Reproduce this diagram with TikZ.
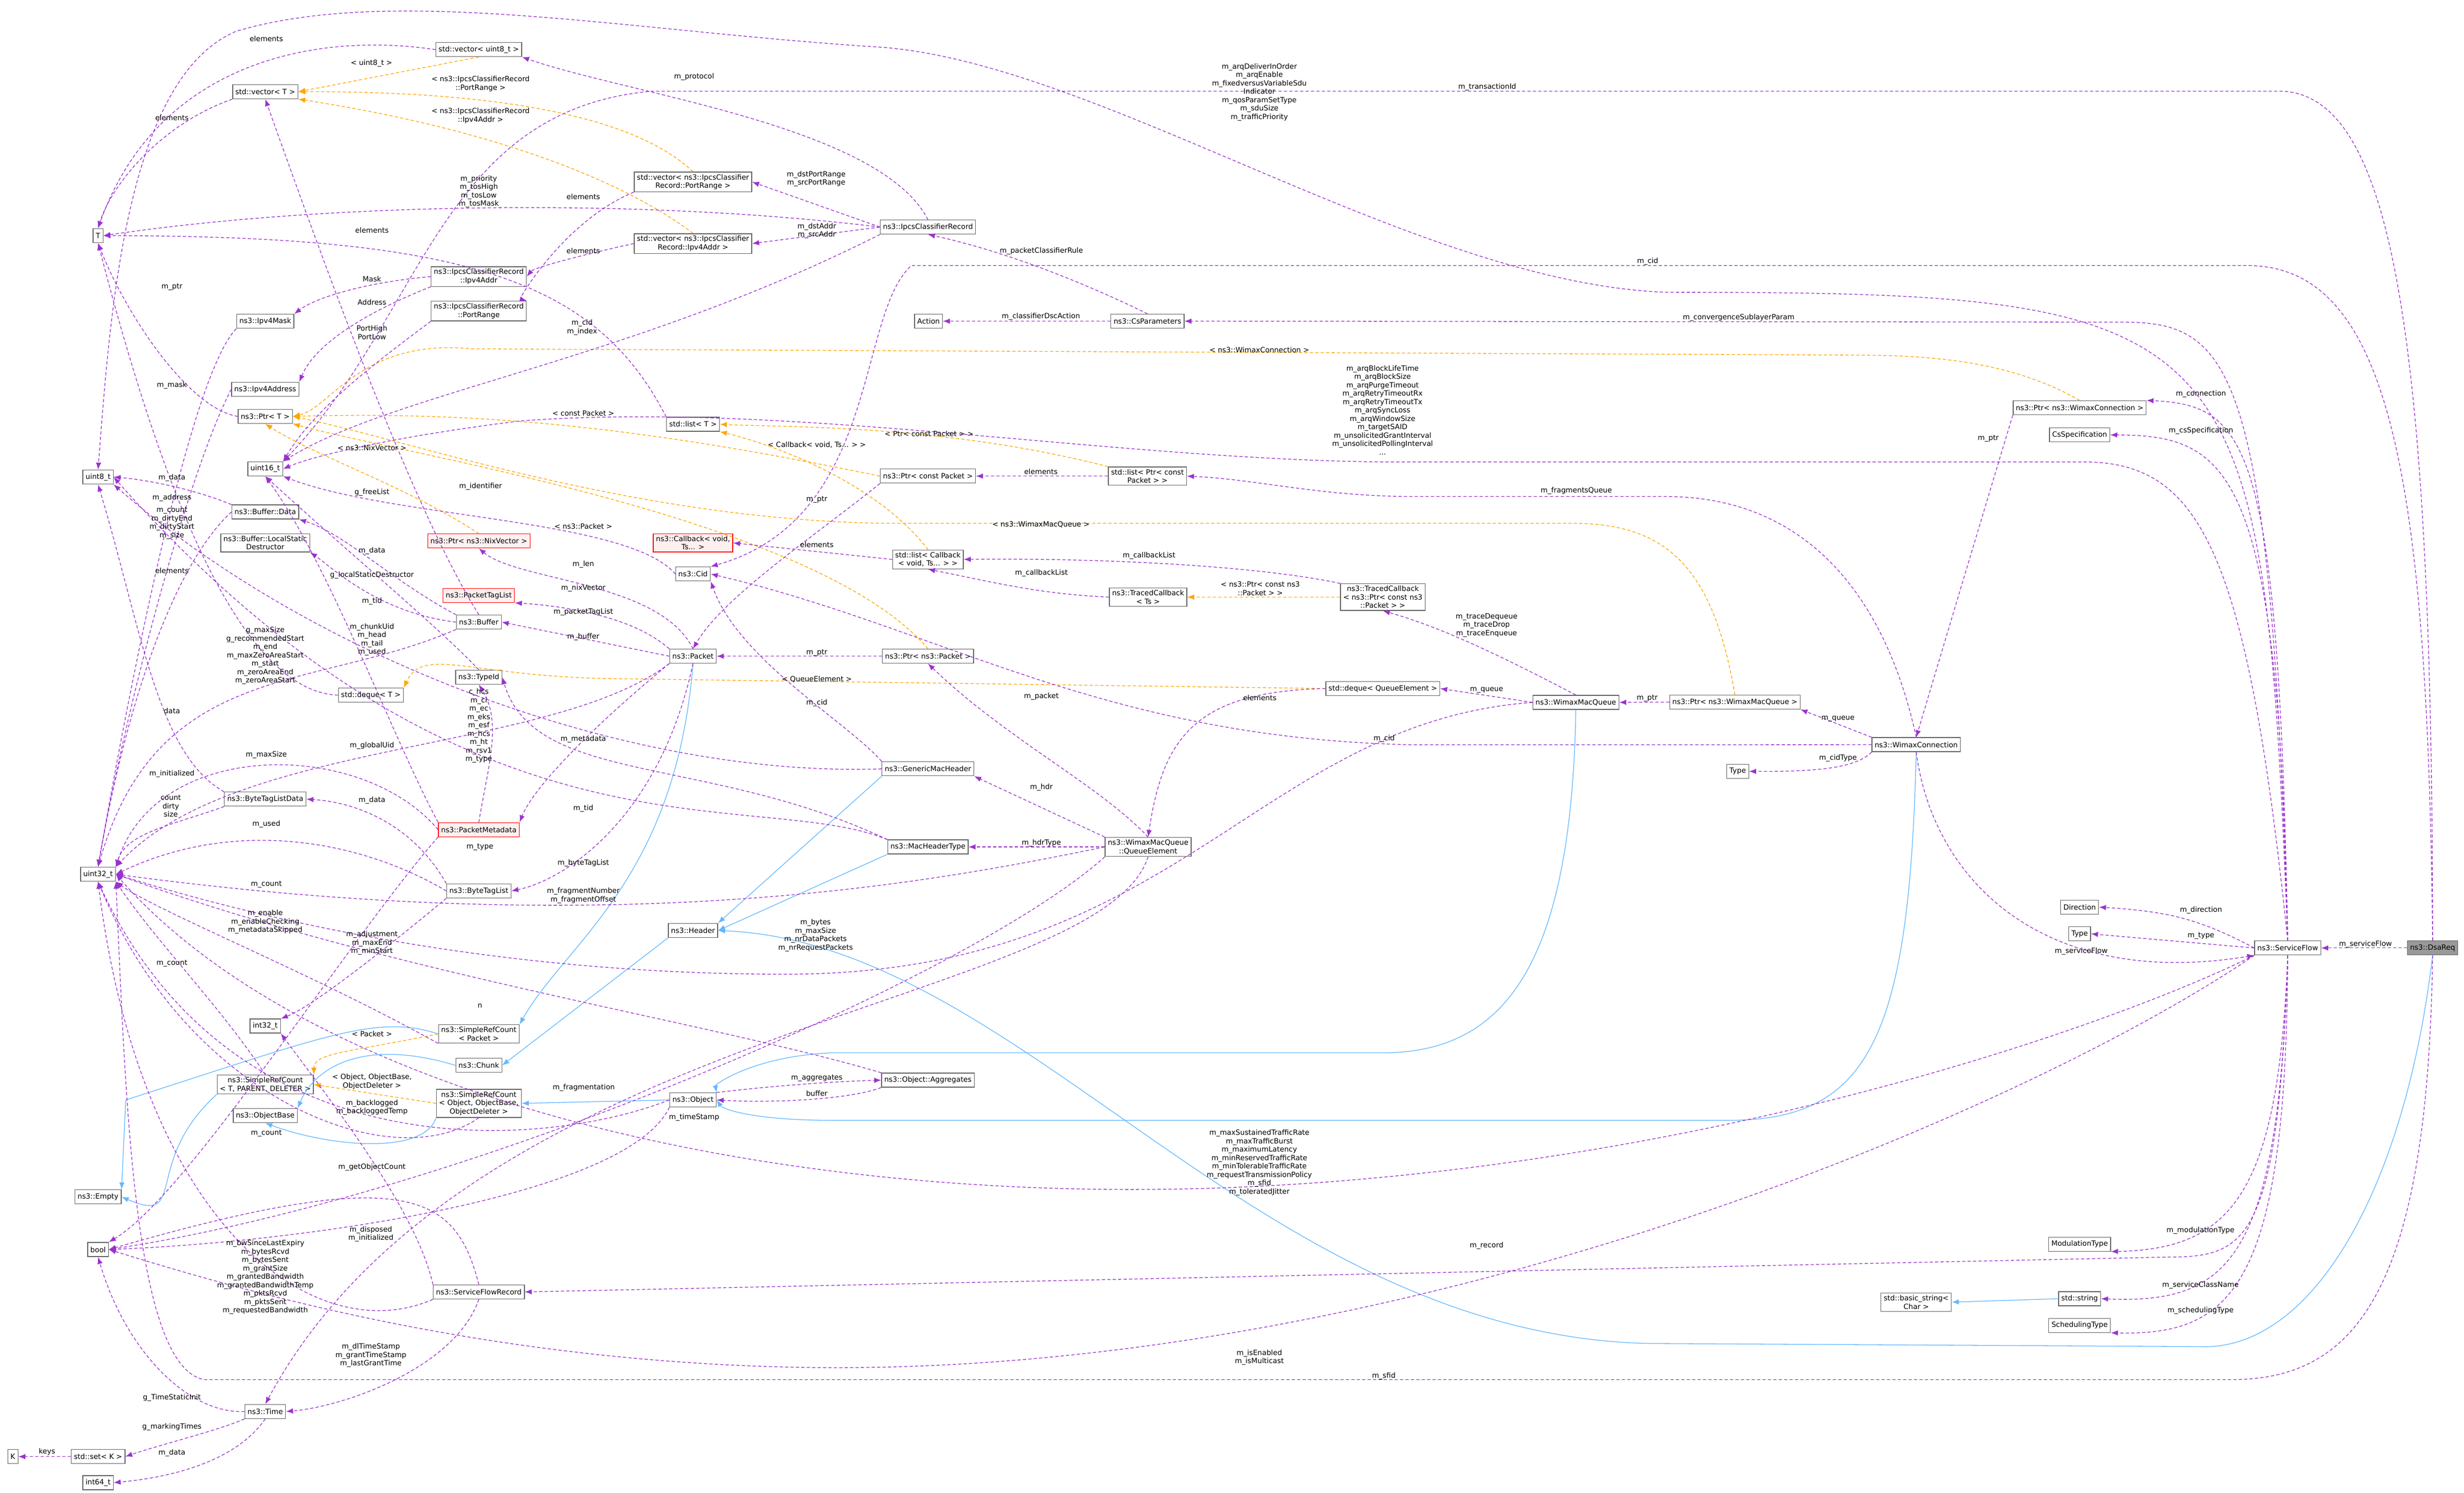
\documentclass[tikz,border=0pt]{standalone}
\usepackage{fontspec}
\setmainfont{DejaVu Sans}
\usetikzlibrary{arrows.meta}
\definecolor{usec}{HTML}{9A32CD}
\definecolor{tplc}{HTML}{FFA500}
\definecolor{inhc}{HTML}{63B8FF}
\definecolor{boxc}{HTML}{666666}
\tikzset{
 cls/.style={draw=boxc,fill=white,line width=1.3pt,inner xsep=5pt,inner ysep=4pt,minimum height=26pt,align=center,font=\fontsize{13.3}{15.5}\selectfont},
 redc/.style={cls,draw=red,fill=red!6},
 selc/.style={cls,fill=black!40},
 lbl/.style={align=center,inner sep=0pt,font=\fontsize{13.3}{15.5}\selectfont},
 usee/.style={draw=usec,line width=1.3pt,dash pattern=on 6pt off 4pt,-{Latex[length=13pt,width=10pt]}},
 tple/.style={draw=tplc,line width=1.3pt,dash pattern=on 6pt off 4pt,-{Latex[length=13pt,width=10pt]}},
 inhe/.style={draw=inhc,line width=1.3pt,-{Latex[length=13pt,width=10pt]}},
}
\begin{document}
\begin{tikzpicture}[x=2.904pt,y=-2.904pt]
\useasboundingbox (0,0) rectangle (1568,950);
% nodes
\node[cls] (vu8) at (304.7,31.6) {std::vector\textless{} uint8\_t \textgreater{}};
\node[cls] (vT) at (168.8,58.4) {std::vector\textless{} T \textgreater{}};
\node[cls] (T) at (62.4,150) {T};
\node[cls] (vPR) at (441,115.8) {std::vector\textless{} ns3::IpcsClassifier\\Record::PortRange \textgreater{}};
\node[cls] (vIA) at (441,155) {std::vector\textless{} ns3::IpcsClassifier\\Record::Ipv4Addr \textgreater{}};
\node[cls] (ICR) at (590.5,144.5) {ns3::IpcsClassifierRecord};
\node[cls] (IA) at (304.7,176) {ns3::IpcsClassifierRecord\\::Ipv4Addr};
\node[cls] (PR) at (304.7,198) {ns3::IpcsClassifierRecord\\::PortRange};
\node[cls] (Act) at (590.9,204.4) {Action};
\node[cls] (CsP) at (730.2,204.4) {ns3::CsParameters};
\node[cls] (Mask) at (168.8,204.5) {ns3::Ipv4Mask};
\node[cls] (Addr) at (168.8,247.8) {ns3::Ipv4Address};
\node[cls] (PtrT) at (168.8,265) {ns3::Ptr\textless{} T \textgreater{}};
\node[cls] (listT) at (441,270) {std::list\textless{} T \textgreater{}};
\node[cls] (u16) at (168.8,298.4) {uint16\_t};
\node[cls] (u8) at (62.4,303.6) {uint8\_t};
\node[cls] (BData) at (168.8,325.8) {ns3::Buffer::Data};
\node[cls] (LSD) at (168.8,345.5) {ns3::Buffer::LocalStatic\\Destructor};
\node[redc] (PtrNix) at (304.7,344.3) {ns3::Ptr\textless{} ns3::NixVector \textgreater{}};
\node[redc] (Cb) at (441,345.5) {ns3::Callback\textless{} void,\\ Ts... \textgreater{}};
\node[cls] (Cid) at (441,365.3) {ns3::Cid};
\node[redc] (PTL) at (304.7,379) {ns3::PacketTagList};
\node[cls] (Buf) at (304.7,395.9) {ns3::Buffer};
\node[cls] (Pkt) at (441,417.6) {ns3::Packet};
\node[cls] (TypeId) at (304.7,431) {ns3::TypeId};
\node[cls] (dqT) at (236,442.4) {std::deque\textless{} T \textgreater{}};
\node[cls] (BTLD) at (168.8,508.6) {ns3::ByteTagListData};
\node[redc] (PM) at (304.7,528) {ns3::PacketMetadata};
\node[cls] (u32) at (62.4,556.4) {uint32\_t};
\node[cls] (BTL) at (304.7,567) {ns3::ByteTagList};
\node[cls] (Hdr) at (441,592.2) {ns3::Header};
\node[cls] (i32) at (168.8,653) {int32\_t};
\node[cls] (SRCP) at (304.7,658) {ns3::SimpleRefCount\\\textless{} Packet \textgreater{}};
\node[cls] (Chunk) at (304.7,678) {ns3::Chunk};
\node[cls] (SRCT) at (168.8,690.2) {ns3::SimpleRefCount\\\textless{} T, PARENT, DELETER \textgreater{}};
\node[cls] (OB) at (168.8,710) {ns3::ObjectBase};
\node[cls] (SRCO) at (304.7,702.2) {ns3::SimpleRefCount\\\textless{} Object, ObjectBase,\\ ObjectDeleter \textgreater{}};
\node[cls] (Obj) at (441,700) {ns3::Object};
\node[cls] (Agg) at (590.5,687.4) {ns3::Object::Aggregates};
\node[cls] (Empty) at (62.4,761.7) {ns3::Empty};
\node[cls] (bool) at (62.4,795.2) {bool};
\node[cls] (SFR) at (304.7,822.2) {ns3::ServiceFlowRecord};
\node[cls] (Time) at (168.8,898.3) {ns3::Time};
\node[cls] (K) at (8.2,927) {K};
\node[cls] (setK) at (62.4,927) {std::set\textless{} K \textgreater{}};
\node[cls] (i64) at (62.4,943.6) {int64\_t};
\node[cls] (PtrCP) at (590.5,303) {ns3::Ptr\textless{} const Packet \textgreater{}};
\node[cls] (lPCP) at (730.2,303) {std::list\textless{} Ptr\textless{} const\\ Packet \textgreater{} \textgreater{}};
\node[cls] (lCb) at (590.5,356) {std::list\textless{} Callback\\\textless{} void, Ts... \textgreater{} \textgreater{}};
\node[cls] (TCTs) at (730.6,380) {ns3::TracedCallback\\\textless{} Ts \textgreater{}};
\node[cls] (TCP) at (880,380) {ns3::TracedCallback\\\textless{} ns3::Ptr\textless{} const ns3\\::Packet \textgreater{} \textgreater{}};
\node[cls] (PtrPkt) at (590.5,417.6) {ns3::Ptr\textless{} ns3::Packet \textgreater{}};
\node[cls] (dqQE) at (880,438.2) {std::deque\textless{} QueueElement \textgreater{}};
\node[cls] (WMQ) at (1002.8,447) {ns3::WimaxMacQueue};
\node[cls] (GMH) at (590.5,489.3) {ns3::GenericMacHeader};
\node[cls] (QE) at (730.6,539) {ns3::WimaxMacQueue\\::QueueElement};
\node[cls] (MHT) at (590.5,539) {ns3::MacHeaderType};
\node[cls] (PtrWC) at (1323.4,259.5) {ns3::Ptr\textless{} ns3::WimaxConnection \textgreater{}};
\node[cls] (CsS) at (1323.4,276.8) {CsSpecification};
\node[cls] (PtrWMQ) at (1104,446.8) {ns3::Ptr\textless{} ns3::WimaxMacQueue \textgreater{}};
\node[cls] (WC) at (1219.4,473.9) {ns3::WimaxConnection};
\node[cls] (TypeC) at (1105.8,490.9) {Type};
\node[cls] (Dir) at (1323.4,577.3) {Direction};
\node[cls] (TypeS) at (1323.4,594.3) {Type};
\node[cls] (SF) at (1455.8,603.3) {ns3::ServiceFlow};
\node[selc] (DR) at (1548,603.3) {ns3::DsaReq};
\node[cls] (ModT) at (1323.4,791.8) {ModulationType};
\node[cls] (bstr) at (1219.4,828.7) {std::basic\_string\textless{}\\ Char \textgreater{}};
\node[cls] (str) at (1323.4,826.5) {std::string};
\node[cls] (SchT) at (1323.4,843.5) {SchedulingType};

% inheritance
\draw[inhe] (DR.south) .. controls (1530,760) and (1470,860) .. (1400,857) -- (1050,855) .. controls (800,850) and (650,600) .. (Hdr.east);
\draw[inhe] (WC.south) .. controls (1215,660) and (1190,713) .. (1100,713) -- (530,713) .. controls (480,713) and (460,706) .. (Obj.east);
\draw[inhe] (WMQ.south) .. controls (1000,610) and (960,670) .. (880,670) -- (530,670) .. controls (480,672) and (455,690) .. (Obj.north east);
\draw[inhe] (GMH.south west) -- (Hdr.north east);
\draw[inhe] (MHT.south west) -- (Hdr.east);
\draw[inhe] (Hdr.south west) -- (Chunk.east);
\draw[inhe] (Chunk.west) .. controls (230,660) and (200,680) .. (OB.north east);
\draw[inhe] (Pkt.south) .. controls (430,560) and (360,600) .. (SRCP.north east);
\draw[inhe] (SRCP.west) .. controls (240,645) and (205,660) .. (80,700) -- (Empty.north east);
\draw[inhe] (SRCT.south west) .. controls (90,740) and (120,780) .. (Empty.east);
\draw[inhe] (SRCO.south west) .. controls (270,735) and (210,730) .. (OB.south);
\draw[inhe] (Obj.west) -- (SRCO.east);
\draw[inhe] (str.west) -- (bstr.east);

% template
\draw[tple] (vu8.south) -- (vT.east);
\draw[tple] (vPR.north) .. controls (400,70) and (300,58) .. (vT.east);
\draw[tple] (vIA.north) .. controls (390,110) and (300,80) .. (vT.south east);
\draw[tple] (PtrWC.north) .. controls (1280,230) and (1230,226) .. (1180,226) -- (300,222) .. controls (230,215) and (210,260) .. (PtrT.east);
\draw[tple] (PtrWMQ.north) .. controls (1090,360) and (1060,333) .. (1000,333) -- (560,333) .. controls (400,330) and (260,280) .. (PtrT.east);
\draw[tple] (PtrPkt.north) .. controls (520,330) and (260,290) .. (PtrT.south east);
\draw[tple] (PtrCP.west) .. controls (400,270) and (300,262) .. (PtrT.east);
\draw[tple] (PtrNix.north) .. controls (260,310) and (200,290) .. (PtrT.south);
\draw[tple] (lCb.north) .. controls (560,310) and (500,285) .. (listT.south east);
\draw[tple] (lPCP.north west) .. controls (600,270) and (500,272) .. (listT.east);
\draw[tple] (TCP.west) -- (TCTs.east);
\draw[tple] (dqQE.west) -- (400,432) .. controls (300,432) and (270,410) .. (dqT.north east);
\draw[tple] (SRCP.west) .. controls (220,670) and (200,670) .. (SRCT.north east);
\draw[tple] (SRCO.west) -- (SRCT.east);

% usage
\draw[usee] (DR.west) -- (SF.east);
\draw[usee] (DR.north) .. controls (1548,200) and (1520,58) .. (1450,58) -- (415,58) .. controls (280,70) and (270,200) .. (u16.north east);
\draw[usee] (DR.north) .. controls (1545,300) and (1520,169) .. (1430,169) -- (580,169) .. controls (545,200) and (560,330) .. (Cid.north east);
\draw[usee] (DR.south) .. controls (1545,820) and (1500,878) .. (1420,878) -- (130,878) .. controls (85,870) and (80,700) .. (u32.south east);
\draw[usee] (SF.west) .. controls (1400,585) and (1380,580) .. (Dir.east);
\draw[usee] (SF.west) -- (TypeS.east);
\draw[usee] (SF.south) .. controls (1450,760) and (1420,795) .. (ModT.south east);
\draw[usee] (SF.south) .. controls (1450,800) and (1420,830) .. (str.east);
\draw[usee] (SF.south) .. controls (1455,820) and (1420,850) .. (SchT.south east);
\draw[usee] (SF.north) .. controls (1450,280) and (1430,258) .. (PtrWC.north east);
\draw[usee] (SF.north) .. controls (1450,300) and (1420,277) .. (CsS.east);
\draw[usee] (SF.north) .. controls (1445,230) and (1420,205) .. (1350,205) -- (CsP.east);
\draw[usee] (SF.south) .. controls (1450,790) and (1430,800) .. (1380,800) -- (SFR.east);
\draw[usee] (SF.south west) .. controls (1350,650) and (1100,740) .. (800,755) .. controls (500,770) and (200,700) .. (u32.east);
\draw[usee] (SF.south west) .. controls (1300,700) and (900,880) .. (500,870) .. controls (300,865) and (150,820) .. (bool.east);
\draw[usee] (SF.north) .. controls (1440,200) and (1430,186) .. (1060,186) .. controls (900,180) and (700,40) .. (560,30) .. controls (400,20) and (250,-10) .. (150,20) .. controls (80,50) and (70,200) .. (u8.north);
\draw[usee] (SF.north) .. controls (1430,350) and (1400,294) .. (1326,294) -- (880,294) .. controls (700,292) and (500,255) .. (330,268) .. controls (250,278) and (200,290) .. (u16.east);
\draw[usee] (WC.south) .. controls (1230,560) and (1300,630) .. (SF.south west);
\draw[usee] (WC.north west) -- (PtrWMQ.south east);
\draw[usee] (WC.south west) .. controls (1180,490) and (1150,491) .. (TypeC.east);
\draw[usee] (WC.west) -- (900,474) .. controls (700,470) and (600,400) .. (Cid.east);
\draw[usee] (WC.north) .. controls (1200,380) and (1150,316) .. (1060,316) -- (900,316) .. controls (840,316) and (800,305) .. (lPCP.east);
\draw[usee] (PtrWC.south west) .. controls (1270,300) and (1240,400) .. (WC.north);
\draw[usee] (PtrWMQ.west) -- (WMQ.east);
\draw[usee] (WMQ.west) -- (dqQE.east);
\draw[usee] (WMQ.north) .. controls (960,420) and (920,400) .. (TCP.south);
\draw[usee] (WMQ.west) .. controls (800,460) and (750,620) .. (500,620) .. controls (300,620) and (150,580) .. (u32.east);
\draw[usee] (dqQE.west) .. controls (760,440) and (740,470) .. (QE.north);
\draw[usee] (QE.north) .. controls (700,500) and (640,470) .. (PtrPkt.south);
\draw[usee] (QE.north west) -- (GMH.south east);
\draw[usee] (QE.west) -- (MHT.east);
\draw[usee] (QE.south) .. controls (700,640) and (300,650) .. (Time.north);
\draw[usee] (QE.west) .. controls (600,560) and (400,600) .. (u32.east);
\draw[usee] (QE.south west) .. controls (620,620) and (300,760) .. (bool.east);
\draw[usee] (GMH.north west) .. controls (540,460) and (470,420) .. (Cid.south east);
\draw[usee] (GMH.west) .. controls (400,495) and (200,420) .. (u8.south east);
\draw[usee] (MHT.north west) .. controls (480,500) and (300,560) .. (u8.east);
\draw[usee] (PtrPkt.west) -- (Pkt.east);
\draw[usee] (PtrCP.south west) .. controls (520,340) and (460,380) .. (Pkt.north);
\draw[usee] (Pkt.west) -- (Buf.east);
\draw[usee] (Pkt.north west) .. controls (400,390) and (350,385) .. (PTL.south east);
\draw[usee] (Pkt.north) .. controls (420,370) and (330,370) .. (PtrNix.south);
\draw[usee] (Pkt.south west) .. controls (380,460) and (340,500) .. (PM.north east);
\draw[usee] (Pkt.south) .. controls (420,520) and (360,560) .. (BTL.east);
\draw[usee] (Pkt.south west) .. controls (350,480) and (150,470) .. (u32.north east);
\draw[usee] (TCP.north west) .. controls (800,360) and (700,355) .. (lCb.east);
\draw[usee] (TCTs.west) .. controls (660,378) and (630,370) .. (lCb.south);
\draw[usee] (lCb.west) -- (Cb.east);
\draw[usee] (lPCP.west) -- (PtrCP.east);
\draw[usee] (Cid.west) .. controls (400,330) and (250,330) .. (u16.south east);
\draw[usee] (ICR.west) -- (vPR.east);
\draw[usee] (ICR.west) -- (vIA.east);
\draw[usee] (ICR.west) .. controls (400,125) and (200,130) .. (T.east);
\draw[usee] (ICR.north) .. controls (560,80) and (400,60) .. (vu8.south east);
\draw[usee] (ICR.south west) .. controls (400,230) and (250,250) .. (u16.north east);
\draw[usee] (CsP.north) .. controls (690,180) and (640,160) .. (ICR.south);
\draw[usee] (CsP.west) -- (Act.east);
\draw[usee] (vPR.south west) .. controls (360,140) and (330,190) .. (PR.north east);
\draw[usee] (vIA.west) .. controls (380,160) and (340,170) .. (IA.east);
\draw[usee] (vu8.west) .. controls (200,20) and (100,40) .. (T.north);
\draw[usee] (vT.south west) .. controls (100,80) and (70,120) .. (T.north);
\draw[usee] (listT.north west) .. controls (380,180) and (300,150) .. (T.east);
\draw[usee] (dqT.west) .. controls (150,440) and (100,300) .. (T.south);
\draw[usee] (PtrT.west) .. controls (120,260) and (80,200) .. (T.south);
\draw[usee] (IA.west) .. controls (230,180) and (200,190) .. (Mask.north east);
\draw[usee] (IA.south west) .. controls (230,200) and (200,220) .. (Addr.north east);
\draw[usee] (PR.south west) .. controls (240,230) and (200,260) .. (u16.north east);
\draw[usee] (Mask.south west) .. controls (120,240) and (80,450) .. (u32.north);
\draw[usee] (Addr.west) .. controls (120,300) and (80,450) .. (u32.north);
\draw[usee] (BData.north west) .. controls (120,310) and (90,305) .. (u8.east);
\draw[usee] (BData.west) .. controls (110,360) and (80,450) .. (u32.north);
\draw[usee] (Buf.north west) .. controls (250,370) and (220,340) .. (BData.south east);
\draw[usee] (Buf.west) .. controls (240,390) and (210,360) .. (LSD.south east);
\draw[usee] (Buf.south west) .. controls (200,440) and (100,420) .. (u32.north);
\draw[usee] (Buf.north) .. controls (260,320) and (200,150) .. (vT.south);
\draw[usee] (TypeId.north) .. controls (280,400) and (220,350) .. (u16.south);
\draw[usee] (PM.north west) .. controls (250,470) and (210,360) .. (u16.south);
\draw[usee] (PM.west) .. controls (230,470) and (100,470) .. (u32.north east);
\draw[usee] (PM.south west) .. controls (220,600) and (120,760) .. (bool.north east);
\draw[usee] (PM.north) .. controls (310,490) and (320,460) .. (TypeId.south);
\draw[usee] (BTLD.north west) .. controls (100,480) and (90,400) .. (u8.south);
\draw[usee] (BTLD.south west) .. controls (110,525) and (80,530) .. (u32.north east);
\draw[usee] (BTL.north west) .. controls (260,520) and (220,510) .. (BTLD.east);
\draw[usee] (BTL.west) .. controls (230,535) and (150,520) .. (u32.east);
\draw[usee] (BTL.south west) .. controls (250,600) and (200,640) .. (i32.north east);
\draw[usee] (MHT.north west) .. controls (450,480) and (340,500) .. (TypeId.east);
\draw[usee] (SRCT.north) .. controls (140,640) and (100,600) .. (u32.south east);
\draw[usee] (SRCP.south west) .. controls (200,620) and (100,580) .. (u32.south east);
\draw[usee] (SRCO.south) .. controls (250,750) and (120,700) .. (u32.south);
\draw[usee] (Agg.north west) .. controls (450,650) and (250,620) .. (u32.east);
\draw[usee] (Agg.south west) .. controls (540,700) and (490,702) .. (Obj.east);
\draw[usee] (Obj.north east) .. controls (500,690) and (540,688) .. (Agg.west);
\draw[usee] (Obj.south west) .. controls (400,760) and (200,790) .. (bool.east);
\draw[usee] (Obj.west) .. controls (350,730) and (150,750) .. (u32.south);
\draw[usee] (SFR.north west) .. controls (265,770) and (210,700) .. (i32.south east);
\draw[usee] (SFR.south west) .. controls (200,860) and (90,780) .. (u32.south);
\draw[usee] (SFR.north) .. controls (290,760) and (260,740) .. (bool.east);
\draw[usee] (SFR.south) .. controls (290,870) and (220,895) .. (Time.east);
\draw[usee] (Time.west) .. controls (120,900) and (80,860) .. (bool.south);
\draw[usee] (Time.south west) .. controls (140,910) and (100,920) .. (setK.east);
\draw[usee] (Time.south) .. controls (150,930) and (110,940) .. (i64.east);
\draw[usee] (setK.west) -- (K.east);

% labels
\node[lbl] at (169.5,24.6) {elements};
\node[lbl] at (236.4,40.4) {\textless{} uint8\_t \textgreater{}};
\node[lbl] at (305.8,53.4) {\textless{} ns3::IpcsClassifierRecord\\::PortRange \textgreater{}};
\node[lbl] at (305.8,73.6) {\textless{} ns3::IpcsClassifierRecord\\::Ipv4Addr \textgreater{}};
\node[lbl] at (441.7,48.8) {m\_protocol};
\node[lbl] at (109.4,74.9) {elements};
\node[lbl] at (519.4,113.8) {m\_dstPortRange\\m\_srcPortRange};
\node[lbl] at (304.7,121.9) {m\_priority\\m\_tosHigh\\m\_tosLow\\m\_tosMask};
\node[lbl] at (371.2,125.2) {elements};
\node[lbl] at (236.7,146.5) {elements};
\node[lbl] at (519.8,146.8) {m\_dstAddr\\m\_srcAddr};
\node[lbl] at (371.2,159.7) {elements};
\node[lbl] at (236.7,177.5) {Mask};
\node[lbl] at (109.4,182.8) {m\_ptr};
\node[lbl] at (236.7,192.5) {Address};
\node[lbl] at (370.4,208.3) {m\_cid\\m\_index};
\node[lbl] at (236.7,211.6) {PortHigh\\PortLow};
\node[lbl] at (109.4,245.2) {m\_mask};
\node[lbl] at (371.2,263) {\textless{} const Packet \textgreater{}};
\node[lbl] at (591.2,275.9) {\textless{} Ptr\textless{} const Packet \textgreater{} \textgreater{}};
\node[lbl] at (519.8,283) {\textless{} Callback\textless{} void, Ts... \textgreater{} \textgreater{}};
\node[lbl] at (236.7,285) {\textless{} ns3::NixVector \textgreater{}};
\node[lbl] at (109.4,304.1) {m\_data};
\node[lbl] at (236.7,313.3) {g\_freeList};
\node[lbl] at (305.8,309.6) {m\_identifier};
\node[lbl] at (109.4,316.8) {m\_address};
\node[lbl] at (519.8,318.1) {m\_ptr};
\node[lbl] at (109.4,333) {m\_count\\m\_dirtyEnd\\m\_dirtyStart\\m\_size};
\node[lbl] at (371.2,335) {\textless{} ns3::Packet \textgreater{}};
\node[lbl] at (236.7,350.6) {m\_data};
\node[lbl] at (519.8,346.5) {elements};
\node[lbl] at (371.2,359.3) {m\_len};
\node[lbl] at (109.4,363.1) {elements};
\node[lbl] at (236.7,366) {g\_localStaticDestructor};
\node[lbl] at (371.2,374.2) {m\_nixVector};
\node[lbl] at (236.7,382.7) {m\_tid};
\node[lbl] at (371.2,389.6) {m\_packetTagList};
\node[lbl] at (236.7,407) {m\_chunkUid\\m\_head\\m\_tail\\m\_used};
\node[lbl] at (371.2,405.4) {m\_buffer};
\node[lbl] at (168.8,417.3) {g\_maxSize\\g\_recommendedStart\\m\_end\\m\_maxZeroAreaStart\\m\_start\\m\_zeroAreaEnd\\m\_zeroAreaStart};
\node[lbl] at (519.8,415.3) {m\_ptr};
\node[lbl] at (519.8,432.3) {\textless{} QueueElement \textgreater{}};
\node[lbl] at (304.7,461.9) {c\_hcs\\m\_ci\\m\_ec\\m\_eks\\m\_esf\\m\_hcs\\m\_ht\\m\_rsv1\\m\_type};
\node[lbl] at (519.8,447.5) {m\_cid};
\node[lbl] at (109.4,452.2) {data};
\node[lbl] at (371.2,470.6) {m\_metadata};
\node[lbl] at (236.7,474.6) {m\_globalUid};
\node[lbl] at (169.5,480.5) {m\_maxSize};
\node[lbl] at (109.4,492.6) {m\_initialized};
\node[lbl] at (108.7,513) {count\\dirty\\size};
\node[lbl] at (236.7,509.2) {m\_data};
\node[lbl] at (371.2,514.5) {m\_tid};
\node[lbl] at (169.5,524.4) {m\_used};
\node[lbl] at (305.4,539.2) {m\_type};
\node[lbl] at (371.2,549.3) {m\_byteTagList};
\node[lbl] at (169.5,563) {m\_count};
\node[lbl] at (371.2,569.9) {m\_fragmentNumber\\m\_fragmentOffset};
\node[lbl] at (168.8,586.7) {m\_enable\\m\_enableChecking\\m\_metadataSkipped};
\node[lbl] at (519,595.2) {m\_bytes\\m\_maxSize\\m\_nrDataPackets\\m\_nrRequestPackets};
\node[lbl] at (236.7,600.1) {m\_adjustment\\m\_maxEnd\\m\_minStart};
\node[lbl] at (109.4,613) {m\_count};
\node[lbl] at (305.4,640) {n};
\node[lbl] at (236.7,658) {\textless{} Packet \textgreater{}};
\node[lbl] at (236.7,688.3) {\textless{} Object, ObjectBase,\\ObjectDeleter \textgreater{}};
\node[lbl] at (519.8,686) {m\_aggregates};
\node[lbl] at (371.5,692.3) {m\_fragmentation};
\node[lbl] at (519.8,695.9) {buffer};
\node[lbl] at (236.7,704.8) {m\_backlogged\\m\_backloggedTemp};
\node[lbl] at (441.7,711.3) {m\_timeStamp};
\node[lbl] at (169.5,721.2) {m\_count};
\node[lbl] at (236.7,742.9) {m\_getObjectCount};
\node[lbl] at (236,785.3) {m\_disposed\\m\_initialized};
\node[lbl] at (168.8,812.9) {m\_bwSinceLastExpiry\\m\_bytesRcvd\\m\_bytesSent\\m\_grantSize\\m\_grantedBandwidth\\m\_grantedBandwidthTemp\\m\_pktsRcvd\\m\_pktsSent\\m\_requestedBandwidth};
\node[lbl] at (236,862.6) {m\_dlTimeStamp\\m\_grantTimeStamp\\m\_lastGrantTime};
\node[lbl] at (109.4,889.6) {g\_TimeStaticInit};
\node[lbl] at (109.4,908.2) {g\_markingTimes};
\node[lbl] at (29.9,924) {keys};
\node[lbl] at (109.4,924.6) {m\_data};
\node[lbl] at (801.4,58.7) {m\_arqDeliverInOrder\\m\_arqEnable\\m\_fixedversusVariableSdu\\Indicator\\m\_qosParamSetType\\m\_sduSize\\m\_trafficPriority};
\node[lbl] at (946.4,55.6) {m\_transactionId};
\node[lbl] at (662.7,159.7) {m\_packetClassifierRule};
\node[lbl] at (1048.5,166.5) {m\_cid};
\node[lbl] at (662.4,201.5) {m\_classifierDscAction};
\node[lbl] at (801.4,222.8) {\textless{} ns3::WimaxConnection \textgreater{}};
\node[lbl] at (879.8,261) {m\_arqBlockLifeTime\\m\_arqBlockSize\\m\_arqPurgeTimeout\\m\_arqRetryTimeoutRx\\m\_arqRetryTimeoutTx\\m\_arqSyncLoss\\m\_arqWindowSize\\m\_targetSAID\\m\_unsolicitedGrantInterval\\m\_unsolicitedPollingInterval\\...};
\node[lbl] at (662.4,300) {elements};
\node[lbl] at (1003.1,312.4) {m\_fragmentsQueue};
\node[lbl] at (662.4,333.7) {\textless{} ns3::WimaxMacQueue \textgreater{}};
\node[lbl] at (731.2,353.7) {m\_callbackList};
\node[lbl] at (662.7,364.8) {m\_callbackList};
\node[lbl] at (802,374.5) {\textless{} ns3::Ptr\textless{} const ns3\\::Packet \textgreater{} \textgreater{}};
\node[lbl] at (946,397.9) {m\_traceDequeue\\m\_traceDrop\\m\_traceEnqueue};
\node[lbl] at (662.7,443.3) {m\_packet};
\node[lbl] at (946,439.3) {m\_queue};
\node[lbl] at (801.7,444.2) {elements};
\node[lbl] at (1048.2,444.5) {m\_ptr};
\node[lbl] at (880.8,470.2) {m\_cid};
\node[lbl] at (662.7,501) {m\_hdr};
\node[lbl] at (662.7,536.4) {m\_hdrType};
\node[lbl] at (801.4,739.9) {m\_maxSustainedTrafficRate\\m\_maxTrafficBurst\\m\_maximumLatency\\m\_minReservedTrafficRate\\m\_minTolerableTrafficRate\\m\_requestTransmissionPolicy\\m\_sfid\\m\_toleratedJitter};
\node[lbl] at (946,792.8) {m\_record};
\node[lbl] at (801.4,863.9) {m\_isEnabled\\m\_isMulticast};
\node[lbl] at (880.6,875.9) {m\_sfid};
\node[lbl] at (1106.4,202) {m\_convergenceSublayerParam};
\node[lbl] at (1400.6,250.6) {m\_connection};
\node[lbl] at (1265.3,279.2) {m\_ptr};
\node[lbl] at (1400.6,274) {m\_csSpecification};
\node[lbl] at (1169.6,457.3) {m\_queue};
\node[lbl] at (1169.6,482.5) {m\_cidType};
\node[lbl] at (1400.6,579.1) {m\_direction};
\node[lbl] at (1400.6,595.6) {m\_type};
\node[lbl] at (1324.4,605.5) {m\_serviceFlow};
\node[lbl] at (1505.3,601.1) {m\_serviceFlow};
\node[lbl] at (1400.3,783.2) {m\_modulationType};
\node[lbl] at (1400.3,817.9) {m\_serviceClassName};
\node[lbl] at (1400.3,834) {m\_schedulingType};
\end{tikzpicture}
\end{document}
